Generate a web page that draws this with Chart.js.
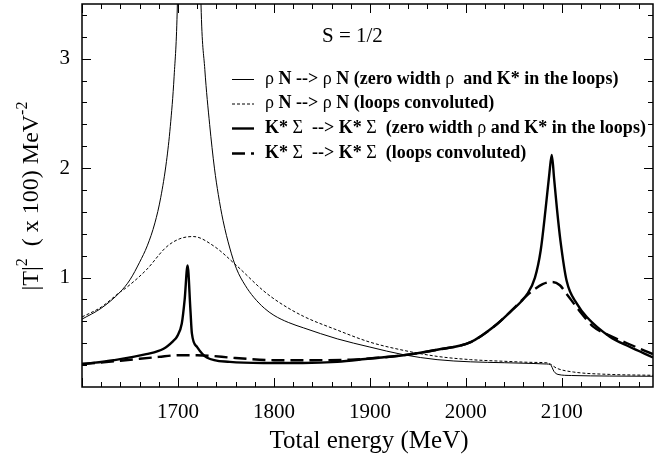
<!DOCTYPE html>
<html>
<head>
<meta charset="utf-8">
<script src="https://cdn.jsdelivr.net/npm/chart.js@4/dist/chart.umd.min.js"></script>
<style>
html,body{margin:0;padding:0;background:#fff;}
#c{display:block;}
</style>
</head>
<body>
<canvas id="c" width="654" height="458"></canvas>
<script>
// ---- data ----
const xTickValues = [1700, 1800, 1900, 2000, 2100];
const yTickValues = [1, 2, 3];

// rho N -> rho N (zero width rho and K* in the loops) : thin solid
const energyRhoZero = [1600,1620,1640,1650,1660,1668,1676,1682,1688,1692,1696,1699.4,1705,1712,1718,1724,1728,1733,1738,1742,1747,1754,1761,1770,1779,1790,1800,1815,1831,1866,1900,1935,1970,2005,2040,2070,2084,2088,2092,2096,2110,2150,2195];
const rhoZero       = [0.62,0.72,0.87,0.98,1.14,1.29,1.50,1.73,2.06,2.38,2.84,3.5,6.5,9.0,6.5,3.5,2.90,2.40,2.00,1.76,1.52,1.27,1.08,0.93,0.82,0.72,0.655,0.59,0.54,0.44,0.365,0.295,0.25,0.23,0.222,0.215,0.21,0.205,0.14,0.115,0.105,0.10,0.098];

// rho N -> rho N (loops convoluted) : thin dashed
const energyRhoConv = [1600,1620,1640,1645,1667,1688,1702,1716,1737,1761,1789,1806,1831,1866,1900,1935,1970,2005,2040,2070,2085,2095,2112,2150,2195];
const rhoConv       = [0.64,0.73,0.87,0.90,1.07,1.28,1.355,1.375,1.29,1.11,0.88,0.77,0.645,0.52,0.41,0.335,0.28,0.25,0.235,0.225,0.22,0.17,0.137,0.115,0.107];

// K* Sigma -> K* Sigma (zero width rho and K* in the loops) : thick solid
const energyKsZero = [1600,1633,1667,1685,1695,1699,1704,1707,1710,1713,1714.5,1720,1730,1754,1789,1830,1866,1900,1935,1970,2005,2029,2046,2064,2072,2078,2083,2087,2089.5,2092,2095,2098.5,2105,2115.8,2126,2150,2170,2195];
const ksZero       = [0.21,0.245,0.30,0.35,0.42,0.46,0.58,0.80,1.11,0.70,0.49,0.365,0.27,0.23,0.22,0.22,0.23,0.26,0.29,0.34,0.41,0.55,0.685,0.85,1.0,1.25,1.62,1.95,2.12,1.90,1.62,1.34,0.97,0.76,0.64,0.46,0.37,0.27];

// K* Sigma -> K* Sigma (loops convoluted) : thick long dashes
const energyKsConv = [1600,1640,1680,1700,1720,1760,1800,1840,1880,1900,1935,1970,2005,2029,2046,2064,2071,2080,2090,2098,2105,2118,2133,2150,2168,2195];
const ksConv       = [0.21,0.24,0.275,0.29,0.29,0.265,0.245,0.245,0.25,0.26,0.29,0.34,0.41,0.55,0.685,0.84,0.89,0.94,0.96,0.93,0.85,0.70,0.55,0.47,0.40,0.30];

const legendLabels = [
  "ρ N --> ρ N (zero width ρ  and K* in the loops)",
  "ρ N --> ρ N (loops convoluted)",
  "K* Σ  --> K* Σ  (zero width ρ and K* in the loops)",
  "K* Σ  --> K* Σ  (loops convoluted)"
];

function pts(xs, ys){ return xs.map((e,i)=>({x:e, y:ys[i]})); }

const SERIF = '"Liberation Serif","Times New Roman",serif';

const styles = [
  {w:1, dash:[]},
  {w:1, dash:[3,2]},
  {w:2.4, dash:[]},
  {w:2.4, dash:[13,6]}
];

function drawMixed(ctx, text, x, y, size){
  const parts = text.split(/([ρΣ])/);
  let cx = x;
  for(const p of parts){
    if(!p) continue;
    const greek = (p==='ρ' || p==='Σ');
    ctx.font = (greek ? '' : 'bold ') + size + 'px ' + SERIF;
    ctx.fillText(p, cx, y);
    cx += ctx.measureText(p).width;
  }
}

const decor = {
  id:'decor',
  afterDatasetsDraw(chart){
    const ctx = chart.ctx, a = chart.chartArea;
    const xs = chart.scales.x, ys = chart.scales.y;
    ctx.save();
    ctx.strokeStyle = '#000';
    ctx.lineWidth = 1.5;
    ctx.strokeRect(a.left, a.top, a.right-a.left, a.bottom-a.top);
    ctx.lineWidth = 1;
    for(let v=1600; v<=2195; v+=20){
      const px = Math.round(xs.getPixelForValue(v))+0.5;
      const L = (v%100===0) ? 9 : 5;
      ctx.beginPath();
      ctx.moveTo(px, a.bottom); ctx.lineTo(px, a.bottom-L);
      ctx.moveTo(px, a.top); ctx.lineTo(px, a.top+L);
      ctx.stroke();
    }
    for(let k=1; k<=17; k++){
      const v = k*0.2;
      const py = Math.round(ys.getPixelForValue(v))+0.5;
      const L = (k%5===0) ? 9 : 5;
      ctx.beginPath();
      ctx.moveTo(a.left, py); ctx.lineTo(a.left+L, py);
      ctx.moveTo(a.right, py); ctx.lineTo(a.right-L, py);
      ctx.stroke();
    }
    ctx.fillStyle = '#000';
    ctx.font = '25px ' + SERIF;
    ctx.textAlign = 'center';
    ctx.textBaseline = 'alphabetic';
    ctx.fillText('Total energy (MeV)', 369, 448);
    ctx.save();
    ctx.translate(38, 196);
    ctx.rotate(-Math.PI/2);
    const segs = [['|T|',24,0],['2',16,-11],['  ( x 100) MeV',24,0],['-2',16,-11]];
    let total = 0;
    for(const s of segs){ ctx.font = s[1]+'px '+SERIF; total += ctx.measureText(s[0]).width; }
    let cx = -total/2;
    ctx.textAlign = 'left';
    for(const s of segs){
      ctx.font = s[1]+'px '+SERIF;
      ctx.fillText(s[0], cx, s[2]);
      cx += ctx.measureText(s[0]).width;
    }
    ctx.restore();
    ctx.font = '21px ' + SERIF;
    ctx.textAlign = 'left';
    ctx.textBaseline = 'middle';
    ctx.fillText('S = 1/2', 322, 36);
    const rowsY = [79, 103.5, 128, 153];
    for(let i=0;i<4;i++){
      const y = rowsY[i];
      ctx.save();
      ctx.lineWidth = styles[i].w;
      ctx.setLineDash(styles[i].dash);
      ctx.beginPath();
      ctx.moveTo(232, y+0.5); ctx.lineTo(254, y+0.5);
      ctx.stroke();
      ctx.restore();
      ctx.textBaseline = 'middle';
      drawMixed(ctx, legendLabels[i], 265, y, 18);
    }
    ctx.restore();
  }
};

const datasets = [
  {data: pts(energyRhoZero, rhoZero)},
  {data: pts(energyRhoConv, rhoConv)},
  {data: pts(energyKsZero, ksZero)},
  {data: pts(energyKsConv, ksConv)}
].map((d,i)=>Object.assign(d,{
  borderColor:'#000',
  borderWidth: styles[i].w,
  borderDash: styles[i].dash,
  pointRadius:0,
  fill:false,
  cubicInterpolationMode:'monotone'
}));

new Chart(document.getElementById('c'), {
  type:'line',
  data:{datasets},
  options:{
    responsive:false,
    animation:false,
    devicePixelRatio:1,
    layout:{padding:{top:4,right:1,left:0,bottom:0}},
    plugins:{legend:{display:false}, tooltip:{enabled:false}},
    scales:{
      x:{
        type:'linear', min:1600, max:2195,
        afterBuildTicks:(s)=>{ s.ticks = xTickValues.map(v=>({value:v})); },
        afterFit:(s)=>{ s.height = 71; s.paddingLeft = 0; s.paddingRight = 0; },
        grid:{display:false, drawTicks:false},
        border:{display:false},
        ticks:{color:'#000', font:{family:SERIF, size:21}, padding:13, maxRotation:0, autoSkip:false,
               callback:(v)=>String(v)}
      },
      y:{
        type:'linear', min:0, max:3.5,
        afterBuildTicks:(s)=>{ s.ticks = yTickValues.map(v=>({value:v})); },
        afterFit:(s)=>{ s.width = 82; s.paddingTop = 0; s.paddingBottom = 0; },
        grid:{display:false, drawTicks:false},
        border:{display:false},
        ticks:{color:'#000', font:{family:SERIF, size:21}, padding:12, autoSkip:false,
               callback:(v)=>String(v)}
      }
    }
  },
  plugins:[decor]
});
</script>
</body>
</html>
